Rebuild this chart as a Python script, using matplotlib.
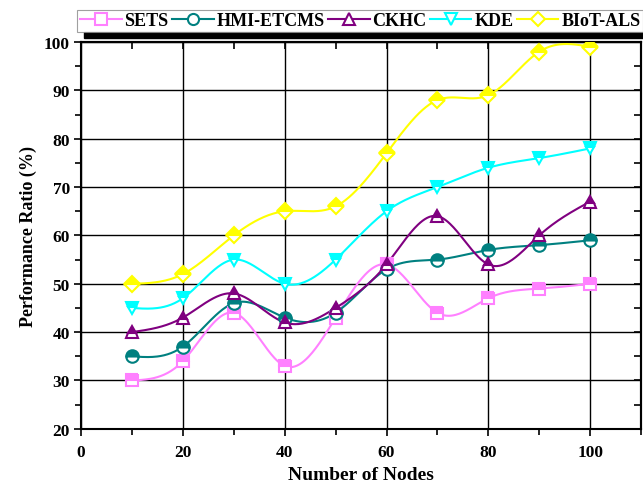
import numpy as np
import matplotlib
matplotlib.use("Agg")
import matplotlib.pyplot as plt
from matplotlib.lines import Line2D
from matplotlib.ticker import MultipleLocator

plt.rcParams['font.family'] = ['Liberation Serif', 'DejaVu Serif']
plt.rcParams['font.weight'] = 'bold'

nodes = [10, 20, 30, 40, 50, 60, 70, 80, 90, 100]
sets = [30, 34, 44, 33, 43, 54, 44, 47, 49, 50]
hmi = [35, 37, 46, 43, 44, 53, 55, 57, 58, 59]
ckhc = [40, 43, 48, 42, 45, 54, 64, 54, 60, 67]
kde = [45, 47, 55, 50, 55, 65, 70, 74, 76, 78]
biot = [50, 52, 60, 65, 66, 77, 88, 89, 98, 99]

names = ['SETS', 'HMI-ETCMS', 'CKHC', 'KDE', 'BIoT-ALS']
colors = ['#ff80ff', '#008080', '#800080', '#00ffff', '#ffff00']
markers = ['s', 'o', '^', 'v', 'D']
series = [sets, hmi, ckhc, kde, biot]


def natural_spline(x, y, n=400):
    x = np.asarray(x, float)
    y = np.asarray(y, float)
    m = len(x)
    h = np.diff(x)
    A = np.zeros((m, m))
    b = np.zeros(m)
    A[0, 0] = 1
    A[-1, -1] = 1
    for i in range(1, m - 1):
        A[i, i - 1] = h[i - 1]
        A[i, i] = 2 * (h[i - 1] + h[i])
        A[i, i + 1] = h[i]
        b[i] = 3 * ((y[i + 1] - y[i]) / h[i] - (y[i] - y[i - 1]) / h[i - 1])
    c = np.linalg.solve(A, b)
    xs = np.linspace(x[0], x[-1], n)
    ys = np.empty_like(xs)
    for k, xv in enumerate(xs):
        i = min(np.searchsorted(x, xv, side='right') - 1, m - 2)
        dx = xv - x[i]
        bi = (y[i + 1] - y[i]) / h[i] - h[i] * (c[i + 1] + 2 * c[i]) / 3
        di = (c[i + 1] - c[i]) / (3 * h[i])
        ys[k] = y[i] + bi * dx + c[i] * dx ** 2 + di * dx ** 3
    return xs, ys


fig = plt.figure(figsize=(6.43, 4.89), dpi=100)
ax = fig.add_axes([0.126, 0.121, 0.871, 0.791])

for vals, col, mk in zip(series, colors, markers):
    xs, ys = natural_spline(nodes, vals)
    ax.plot(xs, ys, color=col, lw=1.5, zorder=3)
    ax.plot(nodes, vals, linestyle='none', marker=mk, markersize=9 if mk != 'D' else 8,
            markerfacecolor=col, markerfacecoloralt='white', fillstyle='top',
            markeredgecolor=col, markeredgewidth=1.5, zorder=4)

ax.set_xlim(0, 110)
ax.set_ylim(20, 100)
ax.xaxis.set_major_locator(MultipleLocator(20))
ax.xaxis.set_minor_locator(MultipleLocator(10))
ax.yaxis.set_major_locator(MultipleLocator(10))
ax.yaxis.set_minor_locator(MultipleLocator(5))
ax.grid(True, which='major', color='black', lw=1.0, zorder=1)
ax.set_axisbelow(True)

ax.tick_params(axis='both', which='both', labelsize=12.5, width=1.2)
ax.tick_params(axis='x', which='both', direction='out', top=False, pad=6)
ax.tick_params(axis='y', which='both', direction='out', right=False, pad=3)
ax.tick_params(which='major', length=5)
ax.tick_params(which='minor', length=4)
secx = ax.secondary_xaxis('top')
secx.xaxis.set_major_locator(MultipleLocator(20))
secx.xaxis.set_minor_locator(MultipleLocator(10))
secx.tick_params(which='both', direction='in', labeltop=False, width=1.2, length=5)
secy = ax.secondary_yaxis('right')
secy.yaxis.set_major_locator(MultipleLocator(10))
secy.yaxis.set_minor_locator(MultipleLocator(5))
secy.tick_params(which='both', direction='in', labelright=False, width=1.2, length=5)
for s in list(ax.spines.values()):
    s.set_linewidth(1.5)
secx.spines['top'].set_linewidth(1.5)
secy.spines['right'].set_linewidth(1.5)

for lab in ax.get_xticklabels() + ax.get_yticklabels():
    lab.set_fontweight('bold')

ax.set_xlabel('Number of Nodes', fontsize=14, fontweight='bold', labelpad=4)
ax.set_ylabel('Performance Ratio (%)', fontsize=13, fontweight='bold', labelpad=5)

handles = [Line2D([0], [0], color=c, lw=1.5, marker=m, markersize=8 if m != 'D' else 7,
                  markerfacecolor='white', markeredgecolor=c, markeredgewidth=1.5)
           for c, m in zip(colors, markers)]
leg = fig.legend(handles, names, loc='upper right', bbox_to_anchor=(1.0, 0.978), ncol=5,
                 frameon=True, fancybox=False, shadow=False,
                 handlelength=2.3, handletextpad=0.15, columnspacing=0.2,
                 borderpad=0.15, borderaxespad=0.0, prop={'weight': 'bold', 'size': 13})
leg.get_frame().set_edgecolor('#888888')
leg.get_frame().set_linewidth(0.8)

fig.canvas.draw()
bb = leg.get_window_extent().transformed(fig.transFigure.inverted())
fig.patches.append(plt.Rectangle((bb.x0 + 0.01, bb.y0 - 0.012), bb.width, 0.012,
                                 transform=fig.transFigure, color='black', zorder=0))

fig.savefig('out.png', dpi=100)
